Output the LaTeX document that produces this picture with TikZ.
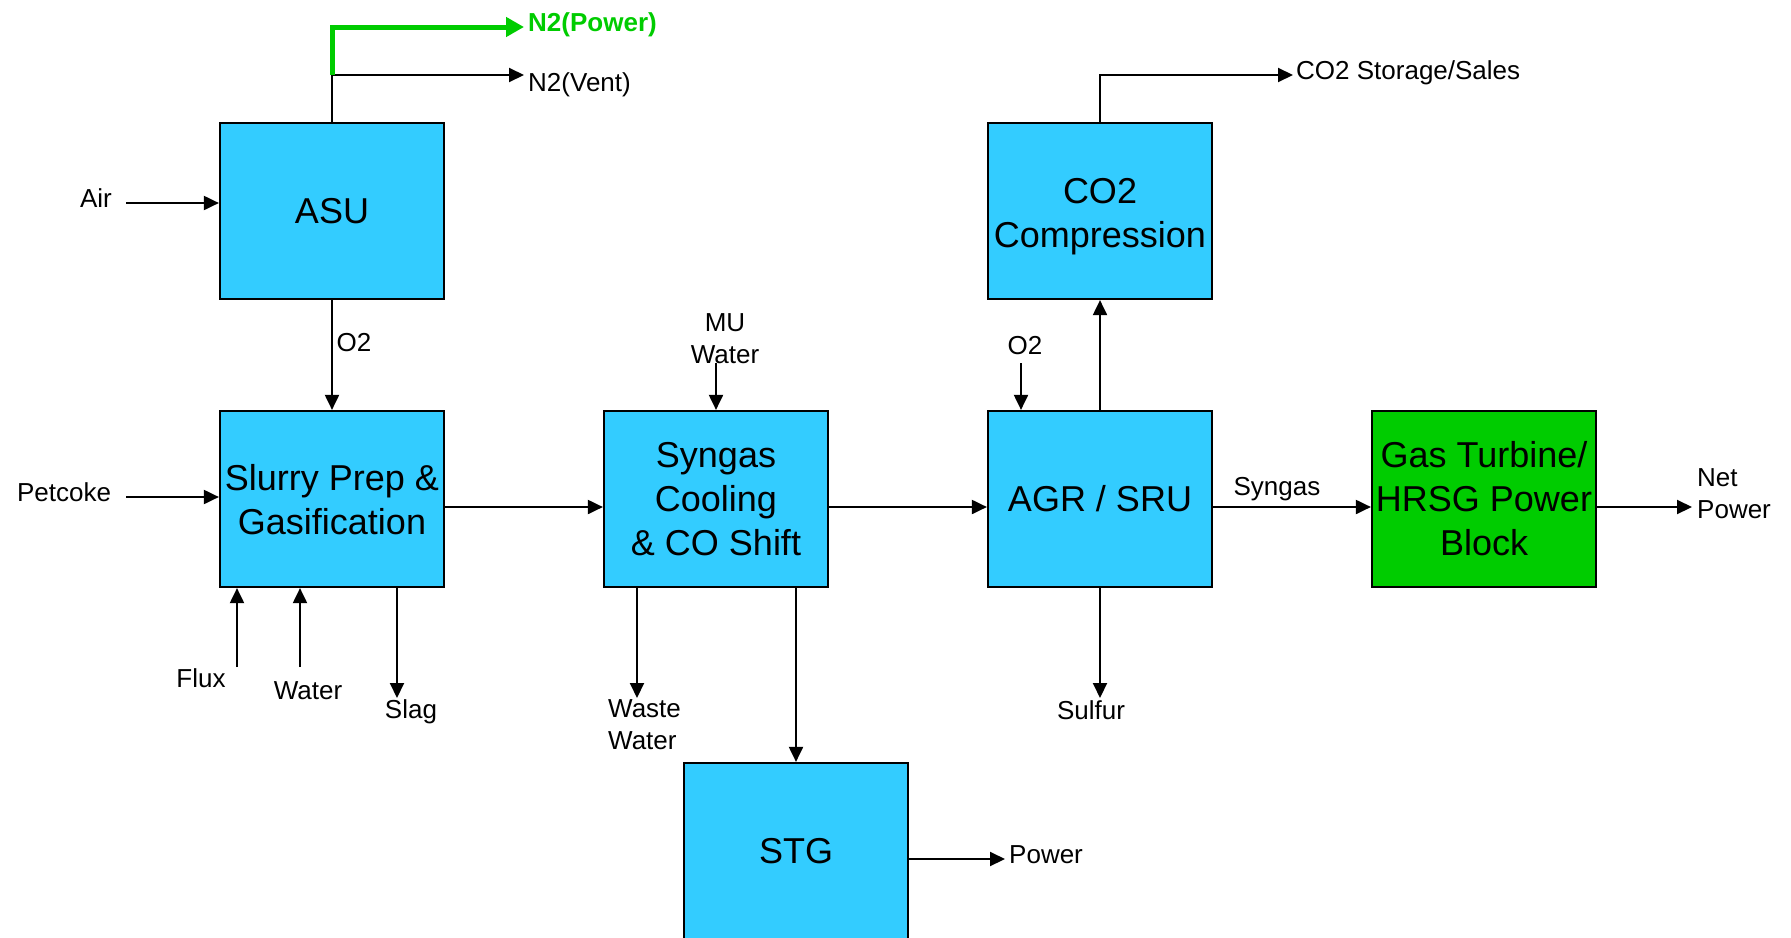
\documentclass[tikz,border=0pt]{standalone}
\usepackage{fontspec}
\setmainfont{Liberation Sans}
\usetikzlibrary{arrows.meta}
\definecolor{boxblue}{HTML}{33CCFF}
\definecolor{boxgreen}{HTML}{00CC00}
\begin{document}
\begin{tikzpicture}[x=1pt,y=-1pt,
  proc/.style={draw=black, line width=2.2pt, fill=boxblue, minimum width=224pt,
    minimum height=176pt, inner sep=0pt, align=center,
    font=\fontsize{36}{44}\selectfont},
  lbl/.style={font=\fontsize{26}{32}\selectfont, inner sep=0pt, anchor=base},
  lbll/.style={lbl, anchor=base west, align=left},
  flow/.style={line width=2pt, -{Triangle[length=15pt,width=14pt]}},
  gflow/.style={line width=5pt, draw=boxgreen, -{Triangle[length=18pt,width=19pt]}},
]
\useasboundingbox (0,0) rectangle (1791,937);

% process boxes
\node[proc] (asu) at (332,211) {ASU};
\node[proc] (slurry) at (332,499) {\rule{0pt}{28pt}Slurry Prep \&\\Gasification};
\node[proc] (syn) at (716,499) {Syngas\\Cooling\\\& CO Shift};
\node[proc] (agr) at (1100,499) {AGR / SRU};
\node[proc] (co2) at (1100,211) {\rule{0pt}{36pt}CO2\\Compression};
\node[proc, fill=boxgreen] (gt) at (1484,499) {Gas Turbine/\\HRSG Power\\Block};
\node[proc] (stg) at (796,851) {STG};

% helper coordinates
\coordinate (mainY) at (0,507);
\coordinate (airS) at (126,203);
\coordinate (petS) at (126,497);
\coordinate (fluxS) at (237,667);
\coordinate (watS) at (300,667);
\coordinate (slagE) at (397,698);
\coordinate (muS) at (716,363);
\coordinate (wwE) at (637,698);
\coordinate (o2S) at (1021,363);
\coordinate (sulE) at (1100,698);
\coordinate (netE) at (1692,507);
\coordinate (pwE) at (1005,859);
\coordinate (jn) at (332,75);
\coordinate (jg) at (332,27);
\coordinate (n2vE) at (524,75);
\coordinate (n2pE) at (524,27);
\coordinate (co2j) at (1100,75);
\coordinate (co2E) at (1293,75);

% connectors
\draw[flow] (airS) -- (airS -| asu.west);
\draw[flow] (asu.south) -- (slurry.north);
\draw[flow] (petS) -- (petS -| slurry.west);
\draw[flow] (fluxS) -- (fluxS |- slurry.south);
\draw[flow] (watS) -- (watS |- slurry.south);
\draw[flow] (slagE |- slurry.south) -- (slagE);
\draw[flow] (slurry.east |- mainY) -- (syn.west |- mainY);
\draw[flow] (muS) -- (muS |- syn.north);
\draw[flow] (wwE |- syn.south) -- (wwE);
\draw[flow] (stg.north |- syn.south) -- (stg.north);
\draw[flow] (stg.east |- pwE) -- (pwE);
\draw[flow] (syn.east |- mainY) -- (agr.west |- mainY);
\draw[flow] (o2S) -- (o2S |- agr.north);
\draw[flow] (agr.north) -- (co2.south);
\draw[flow] (agr.south) -- (sulE);
\draw[flow] (co2.north) -- (co2j) -- (co2E);
\draw[flow] (agr.east |- mainY) -- (gt.west |- mainY);
\draw[flow] (gt.east |- mainY) -- (netE);
\draw[flow] (asu.north) -- (jn) -- (n2vE);
\draw[gflow] (jn) -- (jg) -- (n2pE);

% labels
\node[lbl] (lair) at (96,207) {Air};
\node[lbl] (lo2a) at (354,351) {O2};
\node[lbl] (lpet) at (64,501) {Petcoke};
\node[lbl] (lflux) at (201,687) {Flux};
\node[lbl] (lwat) at (308,699) {Water};
\node[lbl] (lslag) at (411,718) {Slag};
\node[lbl, align=center] (lmu) at (725,363) {MU\\Water};
\node[lbll] (lww) at (608,749) {Waste\\Water};
\node[lbll] (lpw) at (1009,863) {Power};
\node[lbl] (lsul) at (1091,719) {Sulfur};
\node[lbl] (lo2b) at (1025,354) {O2};
\node[lbll] (lco2) at (1296,79) {CO2 Storage/Sales};
\node[lbl] (lsyn) at (1277,495) {Syngas};
\node[lbll] (lnet) at (1697,518) {Net\\Power};
\node[lbll] (ln2v) at (528,91) {N2(Vent)};
\node[lbll, text=boxgreen, font=\fontsize{26}{32}\selectfont\bfseries] (ln2p) at (528,31) {N2(Power)};
\end{tikzpicture}
\end{document}
